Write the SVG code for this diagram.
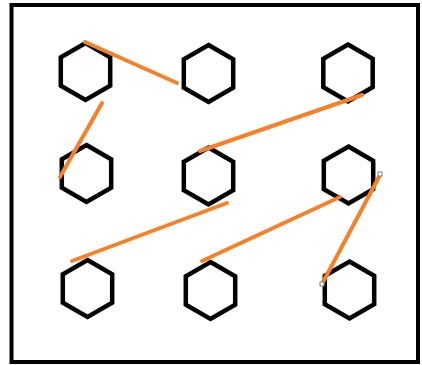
<svg xmlns="http://www.w3.org/2000/svg" width="422" height="365" viewBox="0 0 422 365">
  <style>
    .frame { fill: #ffffff; stroke: #000000; stroke-width: 4; }
    .hex { fill: #ffffff; stroke: #000000; stroke-width: 4.5; stroke-linejoin: miter; }
    .link { stroke: #f5822a; stroke-width: 4; stroke-linecap: round; fill: none; }
    .handle { fill: #ffffff; stroke: #808080; stroke-width: 1; }
  </style>
  <defs>
    <!-- pointy-top hexagon, circumradius 28.5 -->
    <polygon id="hexShape" points="0,-28.5 24.7,-14.25 24.7,14.25 0,28.5 -24.7,14.25 -24.7,-14.25"/>
  </defs>

  <rect class="frame" x="11.5" y="5" width="406.5" height="357"/>

  <g id="hex-r1c1"><use href="#hexShape" class="hex" x="85.5" y="71.5"/></g>
  <g id="hex-r1c2"><use href="#hexShape" class="hex" x="208.5" y="73.5"/></g>
  <g id="hex-r1c3"><use href="#hexShape" class="hex" x="348" y="73"/></g>
  <g id="hex-r2c1"><use href="#hexShape" class="hex" x="86.5" y="173.5"/></g>
  <g id="hex-r2c2"><use href="#hexShape" class="hex" x="208.5" y="176"/></g>
  <g id="hex-r2c3"><use href="#hexShape" class="hex" x="348.5" y="175"/></g>
  <g id="hex-r3c1"><use href="#hexShape" class="hex" x="87.5" y="288.5"/></g>
  <g id="hex-r3c2"><use href="#hexShape" class="hex" x="210.5" y="290.5"/></g>
  <g id="hex-r3c3"><use href="#hexShape" class="hex" x="349.5" y="290"/></g>

  <g id="connectors">
    <line class="link" x1="85" y1="42" x2="177" y2="83"/>
    <line class="link" x1="102" y1="103" x2="60" y2="177"/>
    <line class="link" x1="362" y1="95" x2="200" y2="151"/>
    <line class="link" x1="227" y1="203" x2="72" y2="261"/>
    <line class="link" x1="340" y1="197" x2="202" y2="261"/>
    <line class="link" x1="380" y1="175" x2="322" y2="284"/>
    <rect class="handle" x="378" y="172" width="4" height="4"/>
    <rect class="handle" x="320" y="282" width="4" height="4"/>
  </g>
</svg>
